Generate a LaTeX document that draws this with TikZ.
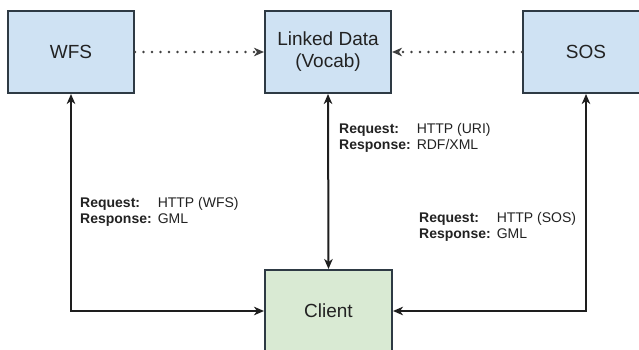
\documentclass[tikz,border=0pt]{standalone}
\usepackage{fontspec}
\setmainfont{Liberation Sans}
\usetikzlibrary{arrows.meta}
\definecolor{boxblue}{HTML}{CFE2F3}
\definecolor{boxgreen}{HTML}{D9EAD3}
\definecolor{edgecol}{HTML}{2E3A44}
\definecolor{linecol}{HTML}{1E1E1E}
\definecolor{txtcol}{HTML}{222222}
\tikzset{
  box/.style={draw=edgecol, line width=2pt, minimum width=126pt, minimum height=82pt,
    inner sep=0pt, font=\fontsize{19}{22}\selectfont, align=center, text=txtcol},
  tip/.style={Stealth[length=10pt,width=8.5pt,inset=3pt]},
  conn/.style={draw=linecol, line width=2pt, {Stealth[length=10pt,width=8.5pt,inset=3pt]}-{Stealth[length=10pt,width=8.5pt,inset=3pt]}},
  dotconn/.style={draw=linecol!85, line width=2.6pt, line cap=round, dash pattern=on 0pt off 8.5pt, -{Stealth[length=10pt,width=8.5pt,inset=3pt,line cap=butt]}},
  lbl/.style={anchor=base west, inner sep=0pt, font=\fontsize{14}{16.5}\selectfont, text=txtcol}
}
\newcommand{\reqresp}[2]{\begin{tabular}[t]{@{}l@{\hspace{6pt}}l@{}}\textbf{Request:} & #1\\ \textbf{Response:} & #2\end{tabular}}
\begin{document}
\begin{tikzpicture}[x=1pt,y=-1pt]
\useasboundingbox (0,0) rectangle (639,350);
\clip (0,0) rectangle (639,350);
\fill[white] (0,0) rectangle (639,350);
\node[box, fill=boxblue] (wfs) at (71,52) {WFS};
\node[box, fill=boxblue] (ld) at (328,52) {Linked Data\\(Vocab)};
\node[box, fill=boxblue] (sos) at (586,52) {SOS};
\node[box, fill=boxgreen, minimum width=127pt] (client) at (328.5,311) {Client};
\draw[dotconn] (wfs.east) -- (ld.west);
\draw[dotconn] (sos.west) -- (ld.east);
\draw[conn] (wfs.south) |- (client.west);
\draw[conn] (ld.south) -- (client.north);
\draw[conn] (sos.south) |- (client.east);
\node[lbl] (l1) at (80,207) {\reqresp{HTTP (WFS)}{GML}};
\node[lbl] (l2) at (339,133) {\reqresp{HTTP (URI)}{RDF/XML}};
\node[lbl] (l3) at (419,222) {\reqresp{HTTP (SOS)}{GML}};
\end{tikzpicture}
\end{document}
